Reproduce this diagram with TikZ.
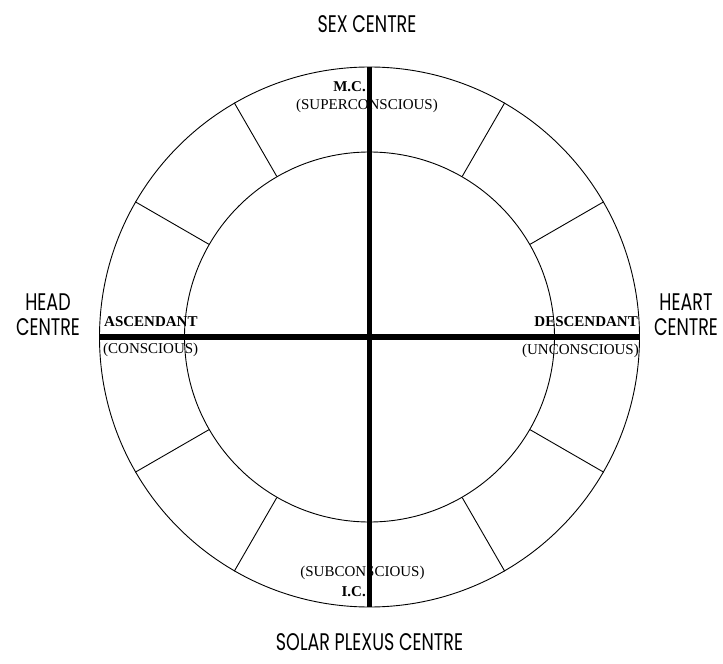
\documentclass[tikz,border=0pt]{standalone}
\usepackage{fontspec}
\setmainfont{Liberation Serif}
\newfontfamily\decofont{Poppins}
\usepackage{tikz}
\usetikzlibrary{positioning}
\newcommand{\deco}[1]{\scalebox{0.73}[1]{#1}}
\tikzset{
  ring/.style={draw, circle, line width=0.9pt, inner sep=0pt},
  spoke/.style={line width=0.9pt},
  axisline/.style={line width=5.5pt},
  pointlab/.style={font=\bfseries\fontsize{15}{16}\selectfont, inner sep=0pt},
  statelab/.style={font=\fontsize{15}{16}\selectfont, inner sep=0pt},
  centrelab/.style={font=\decofont\fontsize{24}{25}\selectfont, align=center, inner sep=0pt}
}

\begin{document}
\begin{tikzpicture}[x=1pt, y=1pt]
\useasboundingbox (-369.5,-327) rectangle (353.5,337);
\node[ring, minimum size=540pt] (outer) at (0,0) {};
\node[ring, minimum size=370pt] (inner) at (0,0) {};

\foreach \a in {30,60,120,150,210,240,300,330}
  \draw[spoke] (inner.\a) -- (outer.\a);

\draw[axisline] (outer.west) -- (outer.east);
\draw[axisline] (outer.north) -- (outer.south);

\node[pointlab, anchor=east] (mc) at (-3.5,250) {M.C.};
\node[statelab] (super) at (-2.5,231) {(SUPERCONSCIOUS)};
\node[statelab] (sub) at (-7,-236) {(SUBCONSCIOUS)};
\node[pointlab, anchor=east] (ic) at (-3.5,-255) {I.C.};
\node[pointlab, anchor=west] (asc) at (-265.5,15) {ASCENDANT};
\node[statelab, anchor=west] (consc) at (-266.5,-13) {(CONSCIOUS)};
\node[pointlab, anchor=east] (desc) at (268.5,15) {DESCENDANT};
\node[statelab, anchor=east] (unconsc) at (269.5,-14) {(UNCONSCIOUS)};

\node[centrelab] (sex) at (-2.5,313) {\deco{SEX CENTRE}};
\node[centrelab] (solar) at (0,-305) {\deco{SOLAR PLEXUS CENTRE}};
\node[centrelab] (head) at (-321.5,22) {\deco{HEAD}\\\deco{CENTRE}};
\node[centrelab] (heart) at (316.5,22) {\deco{HEART}\\\deco{CENTRE}};
\end{tikzpicture}
\end{document}
